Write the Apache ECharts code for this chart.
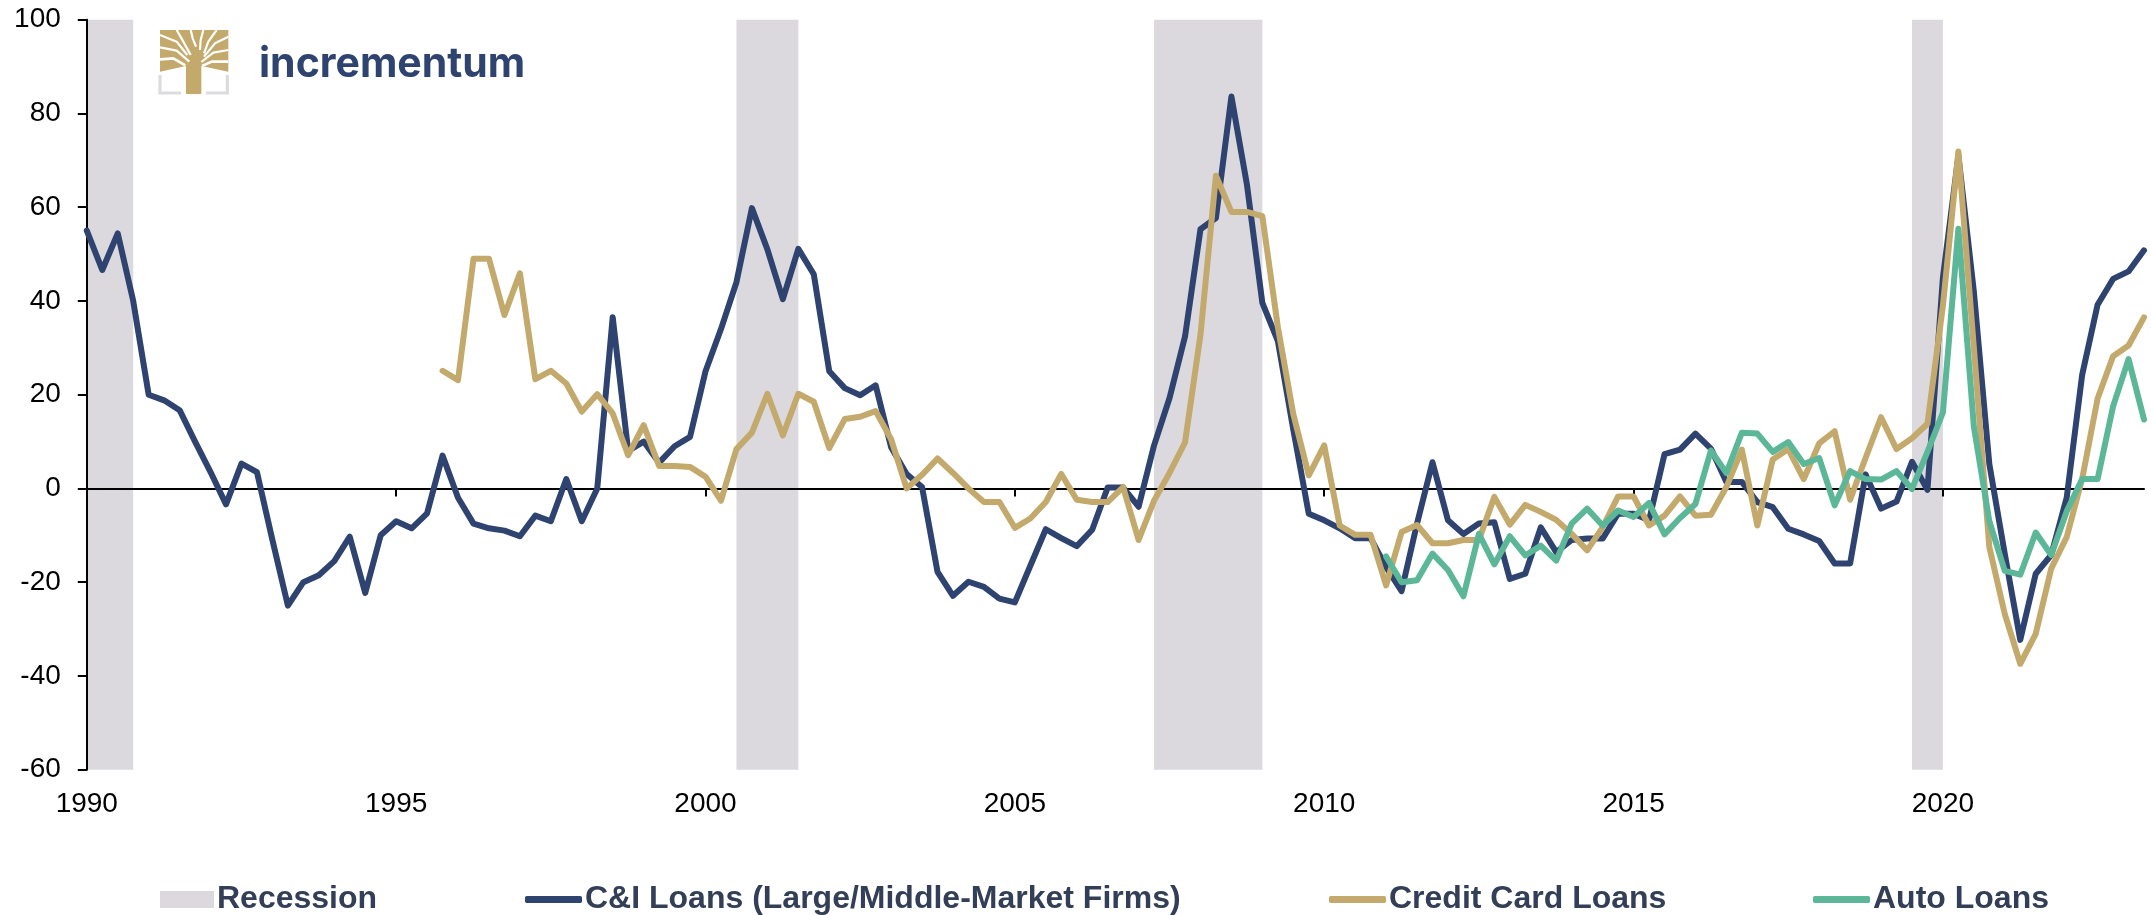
<!DOCTYPE html>
<html><head><meta charset="utf-8">
<style>html,body{margin:0;padding:0;background:#fff}#c{width:2151px;height:915px}</style>
<script src="https://cdn.jsdelivr.net/npm/echarts@6/dist/echarts.min.js"></script>
</head><body><div id="c"></div>
<script>
const quarterStartYear = 1990;
const ciLoans = [55,46.6,54.4,40,20,18.8,16.7,10,3.5,-3.4,5.3,3.5,-11,-25,-20,-18.5,-15.5,-10.3,-22.3,-10,-7,-8.5,-5.3,7,-2,-7.5,-8.5,-9,-10.2,-5.8,-7,2,-7,0,36.5,8,10,5.5,9,11,25,34,44,59.8,51,40.4,51.1,45.7,25,21.4,19.9,22,8.8,3.1,0.3,-17.8,-22.9,-19.9,-21,-23.5,-24.3,-16.5,-8.7,-10.6,-12.3,-8.8,0.2,0.2,-3.9,9.2,19.3,32.4,55.3,57.7,83.6,64.9,39.6,31.5,12.6,-5.4,-6.8,-8.5,-10.6,-10.6,-16.8,-21.9,-7.5,5.6,-6.8,-9.7,-7.5,-7.2,-19.3,-18.2,-8.3,-13.6,-11,-10.7,-10.7,-5.4,-5.4,-6.8,7.3,8.3,11.7,8.5,1.4,1.4,-2.9,-4,-8.6,-9.8,-11.2,-16,-16,3,-4.3,-2.8,5.7,-0.3,45,71,42,5.2,-14,-32.3,-18.2,-14.2,-2,24.2,39.2,44.7,46.3,50.8];
const creditCardLoans = [null,null,null,null,null,null,null,null,null,null,null,null,null,null,null,null,null,null,null,null,null,null,null,25.1,23.1,49,49,37,45.9,23.3,25.1,22.4,16.4,20.1,16,7.1,13.5,4.8,4.8,4.6,2.5,-2.6,8.4,11.9,20.2,11.3,20.2,18.5,8.6,14.8,15.3,16.5,10.5,0,2.9,6.4,3.3,0,-2.9,-2.9,-8.4,-6.4,-2.9,3.1,-2.4,-2.9,-2.9,0.3,-11,-2.6,3.3,9.8,32.8,66.7,59,59,58.1,34.5,15.9,2.8,9.2,-7.9,-9.9,-9.9,-20.7,-9.3,-7.8,-11.7,-11.7,-11,-11,-1.8,-7.7,-3.5,-5,-6.7,-9.7,-13.2,-8.3,-1.7,-1.7,-7.9,-5.8,-1.7,-5.8,-5.6,0.3,8.3,-7.9,6.2,8.4,2,9.6,12.2,-2.4,6.5,15.2,8.4,10.7,13.8,39,71.9,30,-12.5,-26.8,-37.4,-31,-17.1,-10.4,2,19.2,28.2,30.5,36.5];
const autoLoansStartIndex = 84;
const autoLoansValues = [-14.5,-20,-19.6,-13.9,-17.4,-23,-9.7,-16.2,-10.2,-14.3,-12.2,-15.4,-7.5,-4.3,-7.9,-4.7,-6.1,-3.1,-9.8,-6.3,-3.3,8.1,3.3,11.9,11.7,7.8,9.9,5.2,6.5,-3.6,3.7,2,1.9,3.7,-0.1,7.8,16.2,55.4,13.2,-7,-17.6,-18.4,-9.4,-14.2,-4.9,2,2,17.5,27.6,14.7];
const recessionPeriods = [['1990 Q1','1990 Q4'],['2000 Q3','2001 Q3'],['2007 Q2','2009 Q1'],['2019 Q3','2020 Q1']];
const yTicks = {min:-60,max:100,interval:20};
const seriesNames = {ci:'C&I Loans (Large/Middle-Market Firms)',cc:'Credit Card Loans',auto:'Auto Loans',rec:'Recession'};
const colors = {ci:'#2e4370',cc:'#c3aa6c',auto:'#5bb797',rec:'#dbd9dd',legendText:'#323f57'};

const categories = ciLoans.map((_,i)=>(quarterStartYear+Math.floor(i/4))+' Q'+(i%4+1));
const autoLoans = ciLoans.map((_,i)=> i<autoLoansStartIndex ? null : autoLoansValues[i-autoLoansStartIndex]);

const lineSeries = (name,data,color)=>({
  name,type:'line',data,showSymbol:false,symbol:'none',connectNulls:false,silent:true,animation:false,z:3,
  lineStyle:{color,width:6,cap:'round',join:'round'},itemStyle:{color}
});
const legendBase = (name,left,w,h)=>({
  data:[{name,icon:name===seriesNames.rec?'rect':'roundRect'}],left,top:883.5,itemWidth:w,itemHeight:h,padding:0,
  selectedMode:false,textStyle:{fontFamily:'Liberation Sans',fontWeight:'bold',fontSize:32,color:colors.legendText,padding:[0,0,0,-2]}
});

const gold=colors.cc, greyL='#dcdcdf';
const lg=([x,y])=>[x/3,y/3];
const slit=(pts,w)=>({type:'polyline',shape:{points:pts.map(lg)},style:{stroke:'#fff',lineWidth:w||2.2,fill:null,lineCap:'butt',lineJoin:'round'},silent:true});
const logoGraphic=[
  {type:'text',left:259,top:44,style:{text:'incrementum',fontFamily:'Inter',fontWeight:700,fontSize:41,fill:colors.ci},silent:true},
  {type:'polyline',shape:{points:[[480,225],[480,279],[543,279]].map(lg)},style:{stroke:greyL,lineWidth:3.2,fill:null},silent:true},
  {type:'polyline',shape:{points:[[618,279],[682,279],[682,225]].map(lg)},style:{stroke:greyL,lineWidth:3.2,fill:null},silent:true},
  {type:'polygon',shape:{points:[[480,90],[685,90],[685,215],[604,198],[604,282],[558,282],[558,198],[480,215]].map(lg)},style:{fill:gold},silent:true},
  slit([[530,90],[550,125],[572,165]]),slit([[572,90],[578,115],[588,140]]),slit([[610,90],[602,120],[600,150]]),slit([[650,90],[625,125],[612,160]]),
  slit([[480,105],[530,125],[562,165]]),slit([[480,142],[530,152],[568,185]]),slit([[480,178],[520,175],[556,196]],2.6),
  slit([[685,110],[645,130],[612,170]]),slit([[685,150],[640,158],[604,186]]),slit([[685,185],[635,185],[606,198]],2.6)
];

const option={
  animation:false,backgroundColor:'#fff',
  grid:{left:86.8,right:7,top:19.7,bottom:145.3,containLabel:false,outerBoundsMode:'none'},
  legend:[legendBase(seriesNames.rec,160,54,17),legendBase(seriesNames.ci,525,57,7),legendBase(seriesNames.cc,1329,57,7),legendBase(seriesNames.auto,1813,57,7)],
  xAxis:{type:'category',boundaryGap:false,data:categories,
    axisLine:{onZero:true,lineStyle:{color:'#000',width:2}},
    axisTick:{interval:19,length:8,lineStyle:{color:'#000',width:2}},
    axisLabel:{interval:19,margin:21,fontFamily:'Liberation Sans',fontSize:28,color:'#000',formatter:v=>v.slice(0,4)},
    splitLine:{show:false}},
  yAxis:{type:'value',min:yTicks.min,max:yTicks.max,interval:yTicks.interval,
    axisLine:{show:true,lineStyle:{color:'#000',width:2}},
    axisTick:{show:true,length:9,lineStyle:{color:'#000',width:2}},
    axisLabel:{margin:26,fontFamily:'Liberation Sans',fontSize:28,color:'#000'},
    splitLine:{show:false}},
  series:[
    {name:seriesNames.rec,type:'line',data:[],symbol:'none',silent:true,z:-1,itemStyle:{color:colors.rec},lineStyle:{color:colors.rec},
      markArea:{silent:true,z:-1,itemStyle:{color:colors.rec,opacity:1},
        data:recessionPeriods.map(([a,b])=>[{xAxis:a,yAxis:yTicks.max},{xAxis:b,yAxis:yTicks.min}])}},
    lineSeries(seriesNames.ci,ciLoans,colors.ci),
    lineSeries(seriesNames.cc,creditCardLoans,colors.cc),
    lineSeries(seriesNames.auto,autoLoans,colors.auto)
  ],
  graphic:{elements:logoGraphic}
};
echarts.init(document.getElementById('c'),null,{renderer:'canvas'}).setOption(option);
</script></body></html>
